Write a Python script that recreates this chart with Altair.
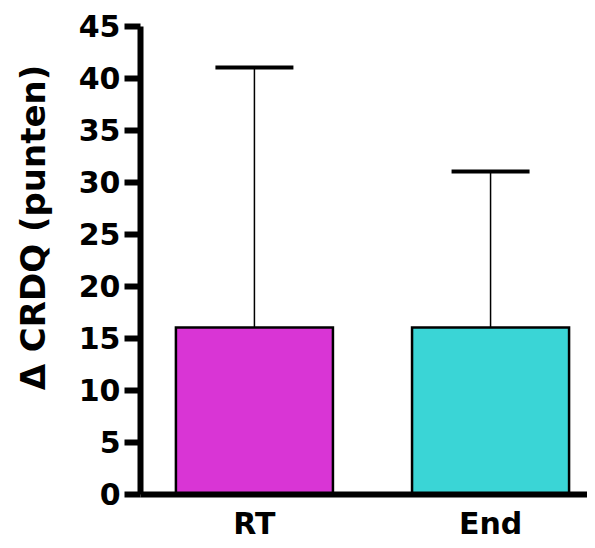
import altair as alt
import pandas as pd

groups = ["RT", "End"]
means = [16.0, 16.0]
sds = [25.0, 15.0]
colors = ["#D935D5", "#3AD5D6"]
y_ticks = [0, 5, 10, 15, 20, 25, 30, 35, 40, 45]

df = pd.DataFrame({"group": groups, "mean": means, "sd": sds})
df["upper"] = df["mean"] + df["sd"]

FONT = "DejaVu Sans"

x_enc = alt.X(
    "group:N",
    sort=groups,
    scale=alt.Scale(paddingInner=0.335, paddingOuter=0.114, align=0.667),
    axis=alt.Axis(
        title=None, labelAngle=0, ticks=False, labelPadding=15,
        labelFont=FONT, labelFontSize=30, labelFontWeight="bold", labelColor="black",
        domainColor="black", domainWidth=6, zindex=1,
    ),
)

y_scale = alt.Scale(domain=[0, 45], nice=False, zero=True)

bars = alt.Chart(df).mark_bar(stroke="black", strokeWidth=2.5).encode(
    x=x_enc,
    y=alt.Y(
        "mean:Q",
        scale=y_scale,
        axis=alt.Axis(
            values=y_ticks, grid=False, title="Δ CRDQ (punten)",
            titleFont=FONT, titleFontSize=34, titleFontWeight="bold", titleColor="black",
            titleAngle=-90, titleAlign="center", titleBaseline="middle",
            titleX=-106, titleY=201,
            labelFont=FONT, labelFontSize=30, labelFontWeight="bold", labelColor="black",
            labelPadding=4, labelOffset=1, tickSize=16, tickWidth=6, tickColor="black",
            domainColor="black", domainWidth=6, zindex=1,
        ),
    ),
    color=alt.Color("group:N", scale=alt.Scale(domain=groups, range=colors), legend=None),
)

err = alt.Chart(df).mark_rule(color="black", strokeWidth=1.5).encode(
    x=alt.X("group:N", sort=groups),
    y=alt.Y("mean:Q", scale=y_scale),
    y2="upper:Q",
)

caps = alt.Chart(df).mark_tick(color="black", opacity=1, thickness=4, size=78, orient="horizontal").encode(
    x=alt.X("group:N", sort=groups),
    y=alt.Y("upper:Q", scale=y_scale),
)

chart = (
    alt.layer(bars, err, caps)
    .properties(
        width=447,
        height=468,
        autosize=alt.AutoSizeParams(type="none"),
        padding={"left": 132, "top": 18, "right": 0, "bottom": 46},
    )
    .configure_view(stroke=None)
    .configure_axis(domainWidth=6, tickWidth=6, domainColor="black", tickColor="black")
)

chart.save("out.html", embed_options={"renderer": "svg", "actions": False})
